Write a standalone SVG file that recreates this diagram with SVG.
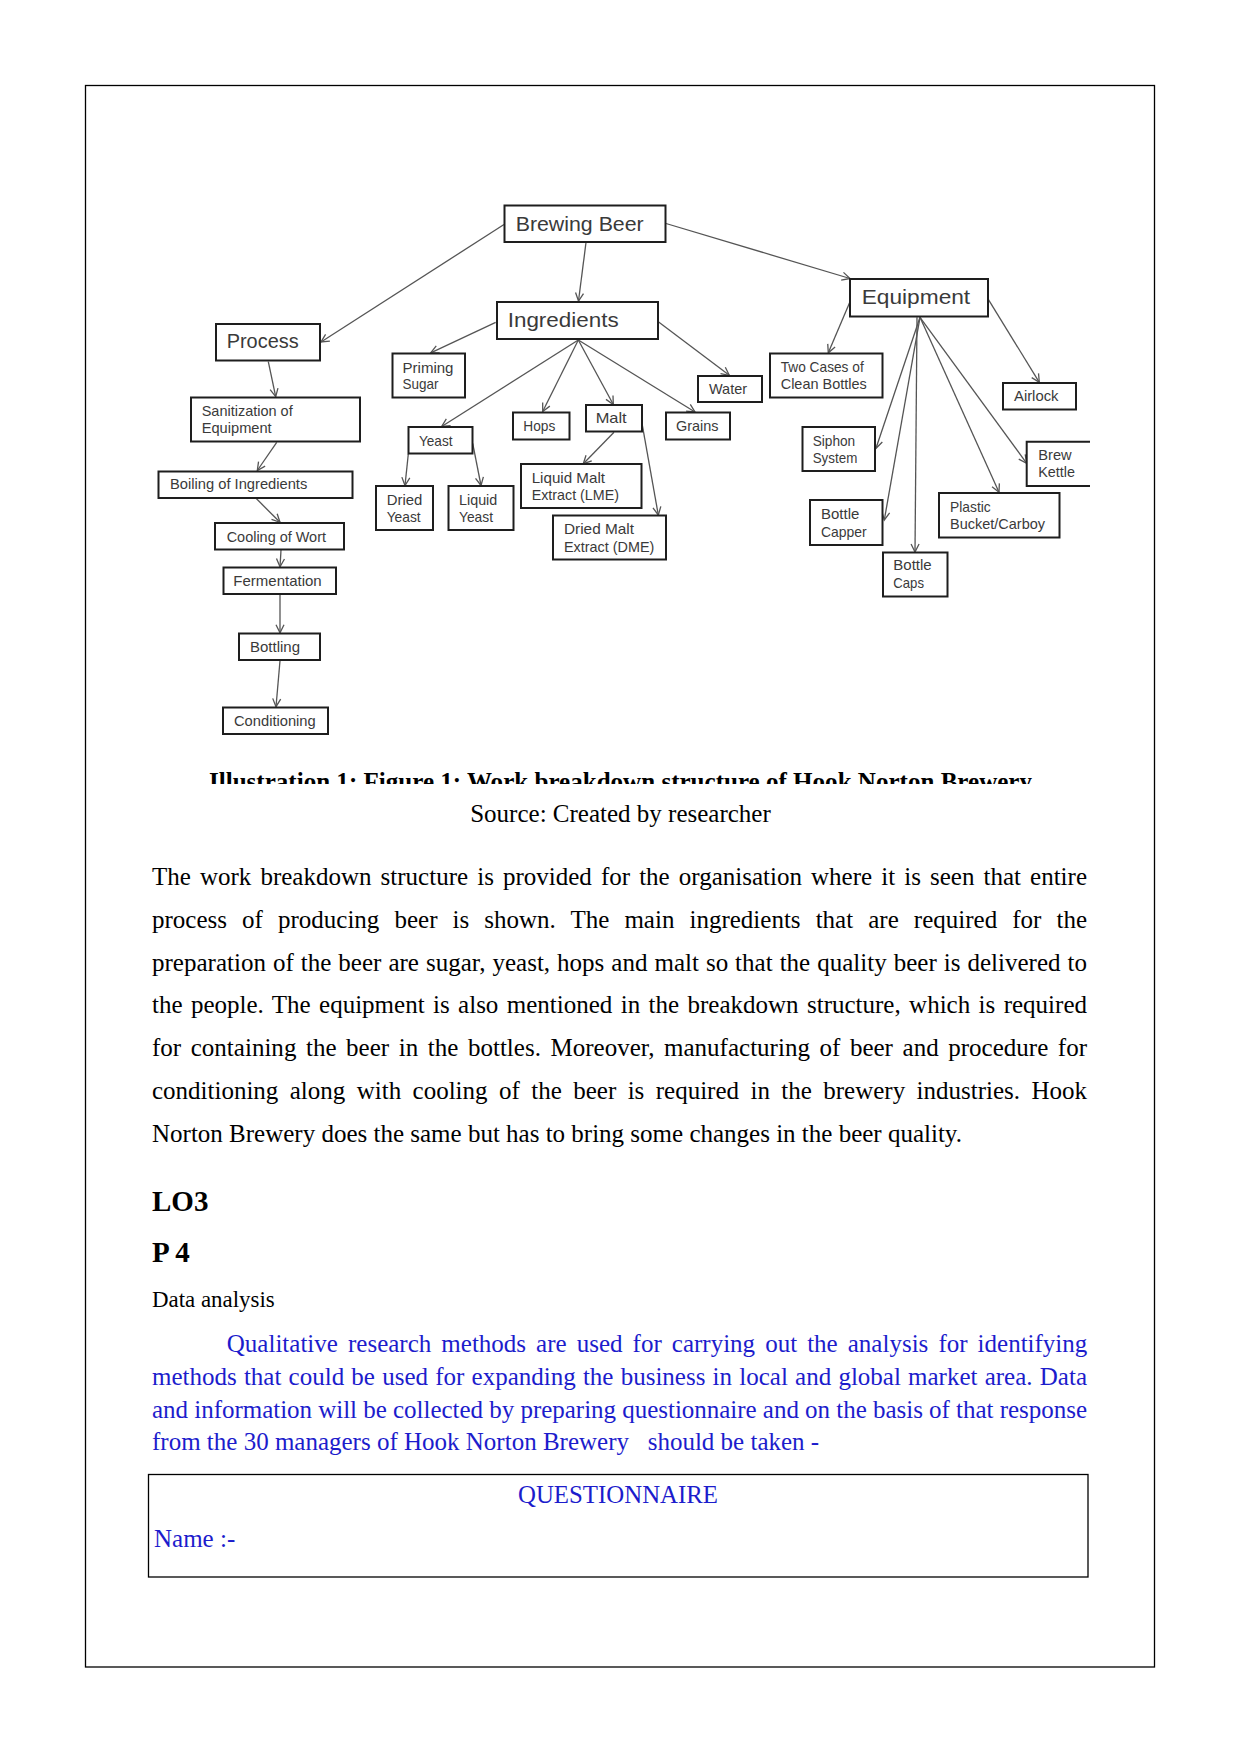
<svg xmlns="http://www.w3.org/2000/svg" width="1241" height="1754" viewBox="0 0 1241 1754">
<style>
.box{fill:#fff;stroke:#1e1e1e;stroke-width:2}
.lbl{font-family:'Liberation Sans',Arial,sans-serif;font-size:15px;fill:#3a3a3a}
.big{font-size:21px}
.conn line{stroke:#555;stroke-width:1.3;marker-end:url(#arr)}
.body{font-family:'Liberation Serif','Times New Roman',serif;font-size:25px;fill:#000}
.blue{fill:#1c1ccc}
</style>
<defs>
<marker id="arr" viewBox="-10 -6 12 12" markerWidth="12" markerHeight="12" refX="0" refY="0" orient="auto" markerUnits="userSpaceOnUse">
<path d="M-8,-4 L0,0 L-8,4" fill="none" stroke="#555" stroke-width="1.3"/>
</marker>
<clipPath id="capclip"><rect x="0" y="760" width="1241" height="24"/></clipPath>
</defs>
<rect width="1241" height="1754" fill="#fff"/>
<rect x="85.5" y="85.5" width="1069" height="1581.5" fill="none" stroke="#000" stroke-width="1.3"/>

<g id="connectors" class="conn">
<line x1="504" y1="224.5" x2="321" y2="342"/>
<line x1="586" y1="242.5" x2="578.5" y2="301"/>
<line x1="666" y1="223.5" x2="850" y2="278.5"/>
<line x1="268.3" y1="361.7" x2="275.7" y2="396.7"/>
<line x1="276.7" y1="442.3" x2="257.3" y2="470.5"/>
<line x1="256" y1="498.3" x2="280" y2="522.3"/>
<line x1="281" y1="550" x2="280" y2="566.7"/>
<line x1="280" y1="594.3" x2="280" y2="632.7"/>
<line x1="280" y1="660.7" x2="276" y2="706.7"/>
<line x1="495.7" y1="322.3" x2="430.7" y2="352.8"/>
<line x1="578.3" y1="340" x2="441.7" y2="426.5"/>
<line x1="578.3" y1="340" x2="542.7" y2="411.5"/>
<line x1="578.3" y1="340" x2="613.3" y2="404.5"/>
<line x1="578.3" y1="340" x2="695" y2="412"/>
<line x1="658.3" y1="321.7" x2="729.3" y2="375.3"/>
<line x1="408.3" y1="454" x2="405" y2="485.5"/>
<line x1="472.7" y1="443.3" x2="481" y2="485.5"/>
<line x1="614" y1="432.3" x2="583.3" y2="463.7"/>
<line x1="641.7" y1="421.7" x2="658.3" y2="515"/>
<line x1="850" y1="301.7" x2="828.3" y2="352.8"/>
<line x1="988.3" y1="299.3" x2="1039.3" y2="382.3"/>
<line x1="920" y1="317.3" x2="876" y2="448.3"/>
<line x1="920" y1="317.3" x2="884.3" y2="520"/>
<line x1="917" y1="317.3" x2="915" y2="552"/>
<line x1="920" y1="317.3" x2="999" y2="492.3"/>
<line x1="920" y1="317.3" x2="1026.7" y2="463.3"/>
</g>

<g id="n-brewing-beer"><rect class="box" x="504.5" y="205.5" width="161" height="36.5"/><text class="lbl big" x="515.7" y="230.7" textLength="128" lengthAdjust="spacingAndGlyphs">Brewing Beer</text></g>
<g id="n-process"><rect class="box" x="216" y="324" width="104" height="36.5"/><text class="lbl" style="font-size:20px" x="226.7" y="348" textLength="72" lengthAdjust="spacingAndGlyphs">Process</text></g>
<g id="n-ingredients"><rect class="box" x="497" y="302" width="161" height="37"/><text class="lbl big" x="507.7" y="326.7" textLength="111" lengthAdjust="spacingAndGlyphs">Ingredients</text></g>
<g id="n-equipment"><rect class="box" x="850" y="279" width="138" height="37.5"/><text class="lbl big" x="861.7" y="304.3" textLength="108.5" lengthAdjust="spacingAndGlyphs">Equipment</text></g>

<g id="n-priming-sugar"><rect class="box" x="392.5" y="353.5" width="72.5" height="44"/><text class="lbl" x="402.5" y="372.5" textLength="51" lengthAdjust="spacingAndGlyphs">Priming</text><text class="lbl" x="402.5" y="389.3" textLength="36" lengthAdjust="spacingAndGlyphs">Sugar</text></g>
<g id="n-water"><rect class="box" x="698" y="376" width="64" height="26"/><text class="lbl" x="709" y="394" textLength="38" lengthAdjust="spacingAndGlyphs">Water</text></g>
<g id="n-two-cases"><rect class="box" x="770" y="353.5" width="112.5" height="44"/><text class="lbl" x="780.7" y="371.7" textLength="83" lengthAdjust="spacingAndGlyphs">Two Cases of</text><text class="lbl" x="780.7" y="389" textLength="86" lengthAdjust="spacingAndGlyphs">Clean Bottles</text></g>
<g id="n-airlock"><rect class="box" x="1003" y="383" width="73" height="26.5"/><text class="lbl" x="1014" y="400.7" textLength="44.5" lengthAdjust="spacingAndGlyphs">Airlock</text></g>
<g id="n-sanitization"><rect class="box" x="191" y="397.5" width="169" height="44"/><text class="lbl" x="201.7" y="415.5" textLength="91" lengthAdjust="spacingAndGlyphs">Sanitization of</text><text class="lbl" x="201.7" y="432.5" textLength="70" lengthAdjust="spacingAndGlyphs">Equipment</text></g>
<g id="n-yeast"><rect class="box" x="408.5" y="427" width="64" height="26.5"/><text class="lbl" x="419" y="445.7" textLength="33.5" lengthAdjust="spacingAndGlyphs">Yeast</text></g>
<g id="n-hops"><rect class="box" x="513" y="412.5" width="56.5" height="27"/><text class="lbl" x="523.3" y="431" textLength="32" lengthAdjust="spacingAndGlyphs">Hops</text></g>
<g id="n-malt"><rect class="box" x="586" y="405" width="56" height="26.5"/><text class="lbl" x="595.7" y="423.3" textLength="31" lengthAdjust="spacingAndGlyphs">Malt</text></g>
<g id="n-grains"><rect class="box" x="666" y="412.5" width="64" height="27"/><text class="lbl" x="676" y="431" textLength="42.5" lengthAdjust="spacingAndGlyphs">Grains</text></g>
<g id="n-siphon"><rect class="box" x="802.5" y="427" width="72.5" height="44"/><text class="lbl" x="812.7" y="445.7" textLength="42.5" lengthAdjust="spacingAndGlyphs">Siphon</text><text class="lbl" x="812.7" y="462.7" textLength="44.6" lengthAdjust="spacingAndGlyphs">System</text></g>
<g id="n-brew-kettle"><path class="box" d="M1090,441.7 H1026.7 V486 H1090" fill="none"/><text class="lbl" x="1038.3" y="460" textLength="33.4" lengthAdjust="spacingAndGlyphs">Brew</text><text class="lbl" x="1038.3" y="477.3" textLength="36.7" lengthAdjust="spacingAndGlyphs">Kettle</text></g>
<g id="n-boiling"><rect class="box" x="158.5" y="471.5" width="194" height="26.5"/><text class="lbl" x="170" y="489.3" textLength="137.3" lengthAdjust="spacingAndGlyphs">Boiling of Ingredients</text></g>
<g id="n-lme"><rect class="box" x="521" y="464" width="120.5" height="44"/><text class="lbl" x="531.7" y="482.7" textLength="73.3" lengthAdjust="spacingAndGlyphs">Liquid Malt</text><text class="lbl" x="531.7" y="500" textLength="87.3" lengthAdjust="spacingAndGlyphs">Extract (LME)</text></g>
<g id="n-dried-yeast"><rect class="box" x="376" y="486" width="57" height="44"/><text class="lbl" x="386.7" y="505" textLength="35.6" lengthAdjust="spacingAndGlyphs">Dried</text><text class="lbl" x="386.7" y="522.3" textLength="34" lengthAdjust="spacingAndGlyphs">Yeast</text></g>
<g id="n-liquid-yeast"><rect class="box" x="448.5" y="486" width="65" height="44"/><text class="lbl" x="459" y="505" textLength="38.3" lengthAdjust="spacingAndGlyphs">Liquid</text><text class="lbl" x="459" y="522.3" textLength="34" lengthAdjust="spacingAndGlyphs">Yeast</text></g>
<g id="n-plastic"><rect class="box" x="939" y="493" width="120.5" height="44.5"/><text class="lbl" x="950" y="511.7" textLength="40.7" lengthAdjust="spacingAndGlyphs">Plastic</text><text class="lbl" x="950" y="529.3" textLength="95" lengthAdjust="spacingAndGlyphs">Bucket/Carboy</text></g>
<g id="n-capper"><rect class="box" x="810" y="500" width="72.5" height="45"/><text class="lbl" x="821" y="519.3" textLength="38.3" lengthAdjust="spacingAndGlyphs">Bottle</text><text class="lbl" x="821" y="536.7" textLength="45.7" lengthAdjust="spacingAndGlyphs">Capper</text></g>
<g id="n-dme"><rect class="box" x="553" y="515.5" width="113" height="44"/><text class="lbl" x="564" y="534" textLength="70" lengthAdjust="spacingAndGlyphs">Dried Malt</text><text class="lbl" x="564" y="551.7" textLength="90.3" lengthAdjust="spacingAndGlyphs">Extract (DME)</text></g>
<g id="n-cooling"><rect class="box" x="215" y="523" width="129" height="26.5"/><text class="lbl" x="226.7" y="541.7" textLength="99.3" lengthAdjust="spacingAndGlyphs">Cooling of Wort</text></g>
<g id="n-caps"><rect class="box" x="883" y="552.5" width="64.5" height="44"/><text class="lbl" x="893.3" y="570" textLength="38.4" lengthAdjust="spacingAndGlyphs">Bottle</text><text class="lbl" x="893.3" y="587.7" textLength="30.7" lengthAdjust="spacingAndGlyphs">Caps</text></g>
<g id="n-fermentation"><rect class="box" x="223.5" y="567.5" width="112.5" height="26.5"/><text class="lbl" x="233.3" y="585.7" textLength="88.4" lengthAdjust="spacingAndGlyphs">Fermentation</text></g>
<g id="n-bottling"><rect class="box" x="239" y="633.5" width="81" height="26.5"/><text class="lbl" x="250" y="652.3" textLength="50" lengthAdjust="spacingAndGlyphs">Bottling</text></g>
<g id="n-conditioning"><rect class="box" x="223" y="707.5" width="105" height="26.5"/><text class="lbl" x="234" y="725.7" textLength="81.7" lengthAdjust="spacingAndGlyphs">Conditioning</text></g>

<g id="caption" clip-path="url(#capclip)"><text class="body" style="font-weight:bold" x="209" y="790" textLength="823" lengthAdjust="spacingAndGlyphs">Illustration 1: Figure 1: Work breakdown structure of Hook Norton Brewery</text></g>
<text class="body" x="620.5" y="822" text-anchor="middle">Source: Created by researcher</text>

<g id="para1" class="body">
<text x="152" y="885" word-spacing="2.8" textLength="935" lengthAdjust="spacing">The work breakdown structure is provided for the organisation where it is seen that entire</text>
<text x="152" y="927.8" word-spacing="8.8" textLength="935" lengthAdjust="spacing">process of producing beer is shown. The main ingredients that are required for the</text>
<text x="152" y="970.6" word-spacing="0.7" textLength="935" lengthAdjust="spacing">preparation of the beer are sugar, yeast, hops and malt so that the quality beer is delivered to</text>
<text x="152" y="1013.4" word-spacing="2.1" textLength="935" lengthAdjust="spacing">the people. The equipment is also mentioned in the breakdown structure, which is required</text>
<text x="152" y="1056.2" word-spacing="3.3" textLength="935" lengthAdjust="spacing">for containing the beer in the bottles. Moreover, manufacturing of beer and procedure for</text>
<text x="152" y="1099" word-spacing="5.2" textLength="935" lengthAdjust="spacing">conditioning along with cooling of the beer is required in the brewery industries. Hook</text>
<text x="152" y="1141.8">Norton Brewery does the same but has to bring some changes in the beer quality.</text>
</g>

<text class="body" x="152" y="1211" style="font-size:29px;font-weight:bold">LO3</text>
<text class="body" x="152" y="1261.7" style="font-size:29px;font-weight:bold">P 4</text>
<text class="body" x="152" y="1306.7" style="font-size:22.9px">Data analysis</text>

<g id="para2" class="body blue">
<text x="226.8" y="1351.7" word-spacing="3.8" textLength="860.5" lengthAdjust="spacing">Qualitative research methods are used for carrying out the analysis for identifying</text>
<text x="152" y="1385" word-spacing="1" textLength="935" lengthAdjust="spacing">methods that could be used for expanding the business in local and global market area. Data</text>
<text x="152" y="1417.7" textLength="935" lengthAdjust="spacing">and information will be collected by preparing questionnaire and on the basis of that response</text>
<text x="152" y="1450">from the 30 managers of Hook Norton Brewery</text>
<text x="647.7" y="1450">should be taken -</text>
</g>

<g id="questionnaire">
<rect x="148.5" y="1474.5" width="939.5" height="102.5" fill="none" stroke="#000" stroke-width="1.3"/>
<text class="body blue" x="518" y="1503" style="font-size:24.5px" textLength="200" lengthAdjust="spacingAndGlyphs">QUESTIONNAIRE</text>
<text class="body blue" x="154" y="1546.7">Name :-</text>
</g>
</svg>
